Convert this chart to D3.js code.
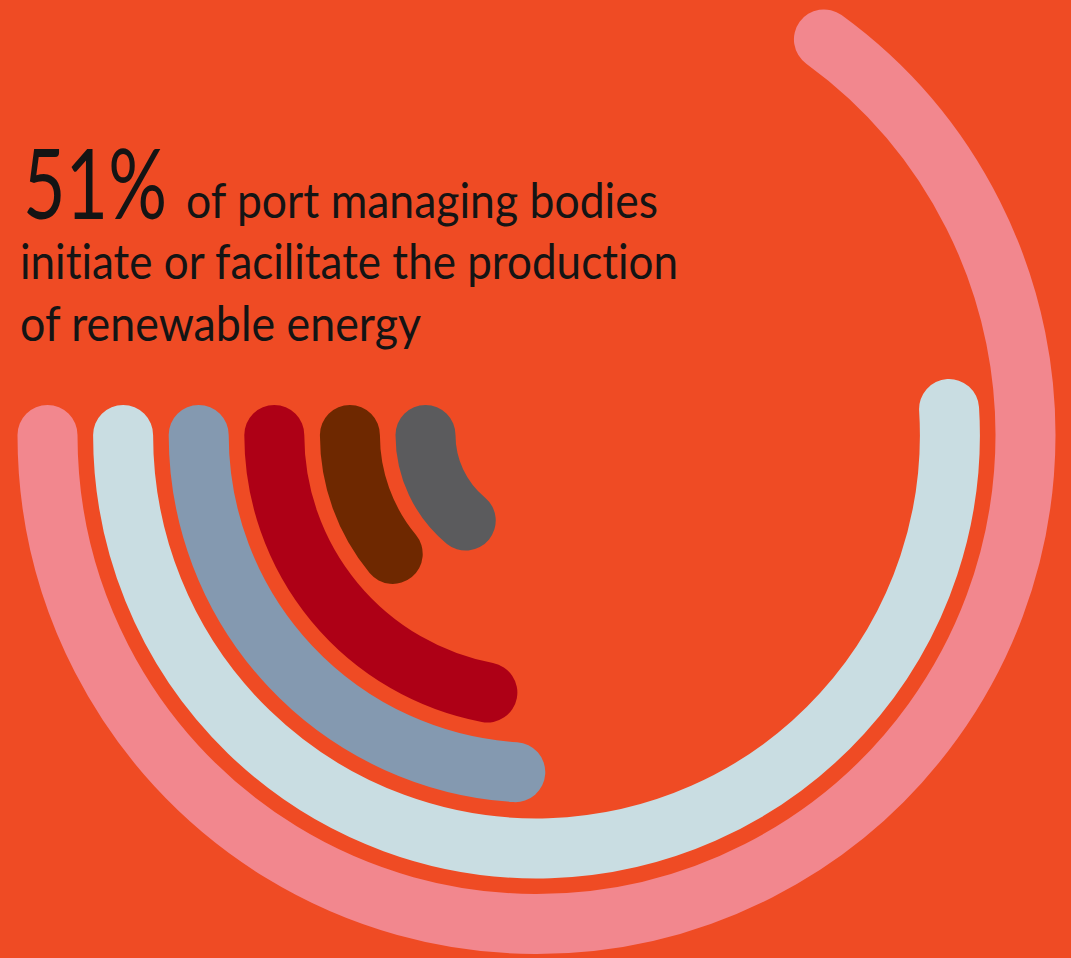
<!DOCTYPE html>
<html>
<head>
<meta charset="utf-8">
<script src="https://cdn.jsdelivr.net/npm/d3@7"></script>
<style>
  html, body { margin: 0; padding: 0; background: #EF4B24; }
  svg { display: block; }
  text { font-variant-ligatures: none; }
</style>
</head>
<body>
<svg id="chart" width="1071" height="958"></svg>
<script>
// Share of port managing bodies per ring, outermost ring first (percent of a full circle)
const shares = [65, 51, 24, 22, 11, 14];
const ringColors = ["#F2878E", "#C9DDE2", "#8499B0", "#AE0016", "#6E2800", "#5B5B5D"];

// Headline text
const headlineValue = "51%";
const headlineLines = [
  "of port managing bodies",
  "initiate or facilitate the production",
  "of renewable energy"
];

const width = 1071, height = 958;
const cx = 536.5, cy = 435;
const thickness = 60;

const svg = d3.select("#chart");

svg.append("rect")
  .attr("width", width).attr("height", height)
  .attr("fill", "#EF4B24");

// Ring radius by position, and angular sweep by percentage
const radius = d3.scaleLinear().domain([0, shares.length - 1]).range([489, 111]);
const sweep = d3.scaleLinear().domain([0, 100]).range([0, 2 * Math.PI]);

// Every ring starts at 9 o'clock and runs down through 6 o'clock (screen angle decreasing)
const startAngle = Math.PI;
function ringPath(value, i) {
  const p = d3.path();
  const r = radius(i);
  p.moveTo(cx + r * Math.cos(startAngle), cy + r * Math.sin(startAngle));
  p.arc(cx, cy, r, startAngle, startAngle - sweep(value), true);
  return p.toString();
}

svg.append("g")
  .selectAll("path")
  .data(shares)
  .join("path")
  .attr("d", (d, i) => ringPath(d, i))
  .attr("fill", "none")
  .attr("stroke", (d, i) => ringColors[i])
  .attr("stroke-width", thickness)
  .attr("stroke-linecap", "round");

// Headline
const font = "Lato, 'Open Sans', 'Noto Sans', sans-serif";
const textG = svg.append("g").attr("fill", "#141414").attr("font-family", font);

textG.append("text")
  .attr("x", 23).attr("y", 219)
  .attr("font-size", 97)
  .attr("textLength", 144)
  .attr("lengthAdjust", "spacingAndGlyphs")
  .text(headlineValue);

const lineSpecs = [
  { x: 186, y: 218, len: 472 },
  { x: 20, y: 279, len: 658 },
  { x: 20, y: 341, len: 401 }
];

textG.selectAll("text.line")
  .data(headlineLines)
  .join("text")
  .attr("class", "line")
  .attr("x", (d, i) => lineSpecs[i].x)
  .attr("y", (d, i) => lineSpecs[i].y)
  .attr("font-size", 49)
  .attr("textLength", (d, i) => lineSpecs[i].len)
  .attr("lengthAdjust", "spacingAndGlyphs")
  .text(d => d);
</script>
</body>
</html>
